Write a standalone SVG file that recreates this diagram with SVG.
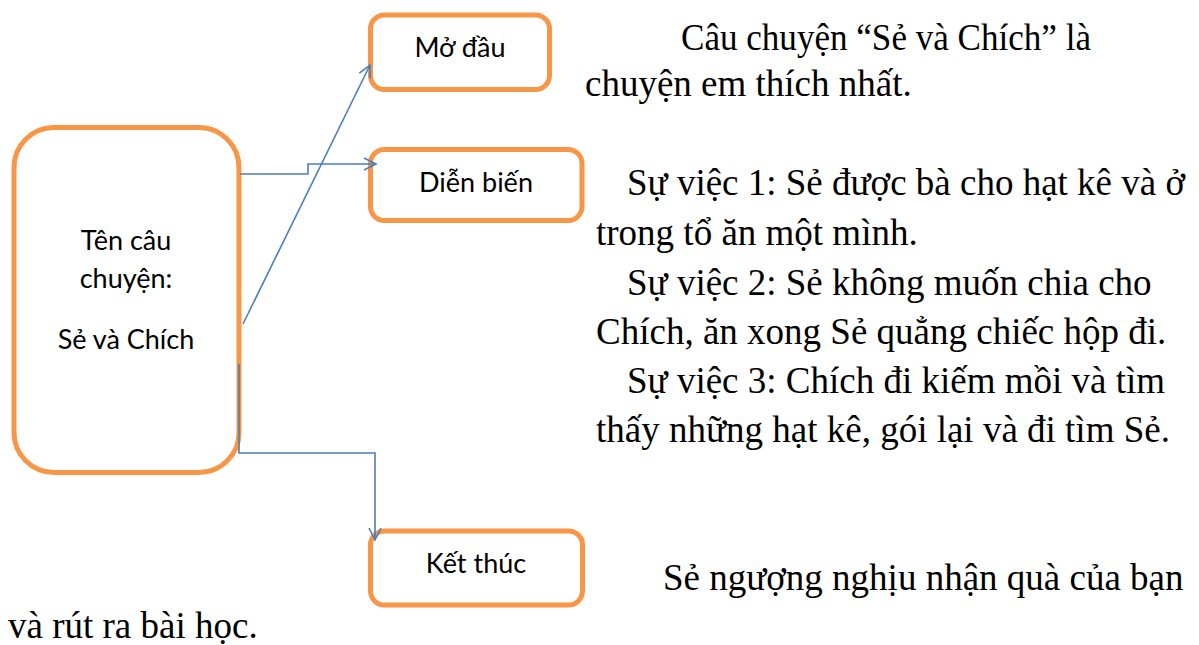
<svg xmlns="http://www.w3.org/2000/svg" width="1199" height="645" viewBox="0 0 1199 645">
<style>
.box{fill:#fff;stroke:#F79646;stroke-width:5}
.lbl{font-family:Lato,"Open Sans",sans-serif;font-size:27px;fill:#000;text-anchor:middle}
.con{fill:none;stroke:#4A7EBB;stroke-width:1.6}
.tx{font-family:"Liberation Serif","Times New Roman",serif;font-size:37px;fill:#000}
</style>
<defs>
<marker id="arr" markerUnits="userSpaceOnUse" markerWidth="16" markerHeight="16" refX="13" refY="7" orient="auto" viewBox="0 0 16 14">
<path d="M1,1 L13,7 L1,13" fill="none" stroke="#4A7EBB" stroke-width="1.6"/>
</marker>
</defs>
<rect width="1199" height="645" fill="#fff"/>
<g id="node-main">
<rect class="box" x="14" y="127.5" width="225" height="345" rx="40"/>
<text class="lbl" x="126" y="250">Tên câu</text>
<text class="lbl" x="126" y="288">chuyện:</text>
<text class="lbl" x="126" y="349">Sẻ và Chích</text>
</g>
<g id="node-modau">
<rect class="box" x="370.5" y="15" width="179" height="74.5" rx="14"/>
<text class="lbl" x="460" y="57">Mở đầu</text>
</g>
<g id="node-dienbien">
<rect class="box" x="370.5" y="149.5" width="211.5" height="71" rx="14"/>
<text class="lbl" x="476" y="192">Diễn biến</text>
</g>
<g id="node-ketthuc">
<rect class="box" x="370.5" y="531" width="212" height="74" rx="14"/>
<text class="lbl" x="476" y="573">Kết thúc</text>
</g>
<g id="connectors">
<path class="con" d="M243,324 L370,65" marker-end="url(#arr)"/>
<path class="con" d="M240,174 L308,174 L308,164 L376,164" marker-end="url(#arr)"/>
<path class="con" d="M239,364 L239,453 L375,453 L375,540" marker-end="url(#arr)"/>
</g>
<g id="texts">
<text class="tx" x="681" y="50" textLength="410" lengthAdjust="spacingAndGlyphs">Câu chuyện “Sẻ và Chích” là</text>
<text class="tx" x="585" y="96">chuyện em thích nhất.</text>
<text class="tx" x="627" y="195">Sự việc 1: Sẻ được bà cho hạt kê và ở</text>
<text class="tx" x="596" y="245">trong tổ ăn một mình.</text>
<text class="tx" x="627" y="295">Sự việc 2: Sẻ không muốn chia cho</text>
<text class="tx" x="596" y="344">Chích, ăn xong Sẻ quẳng chiếc hộp đi.</text>
<text class="tx" x="627" y="393">Sự việc 3: Chích đi kiếm mồi và tìm</text>
<text class="tx" x="596" y="442">thấy những hạt kê, gói lại và đi tìm Sẻ.</text>
<text class="tx" x="663" y="590">Sẻ ngượng nghịu nhận quà của bạn</text>
<text class="tx" x="8" y="638">và rút ra bài học.</text>
</g>
</svg>
